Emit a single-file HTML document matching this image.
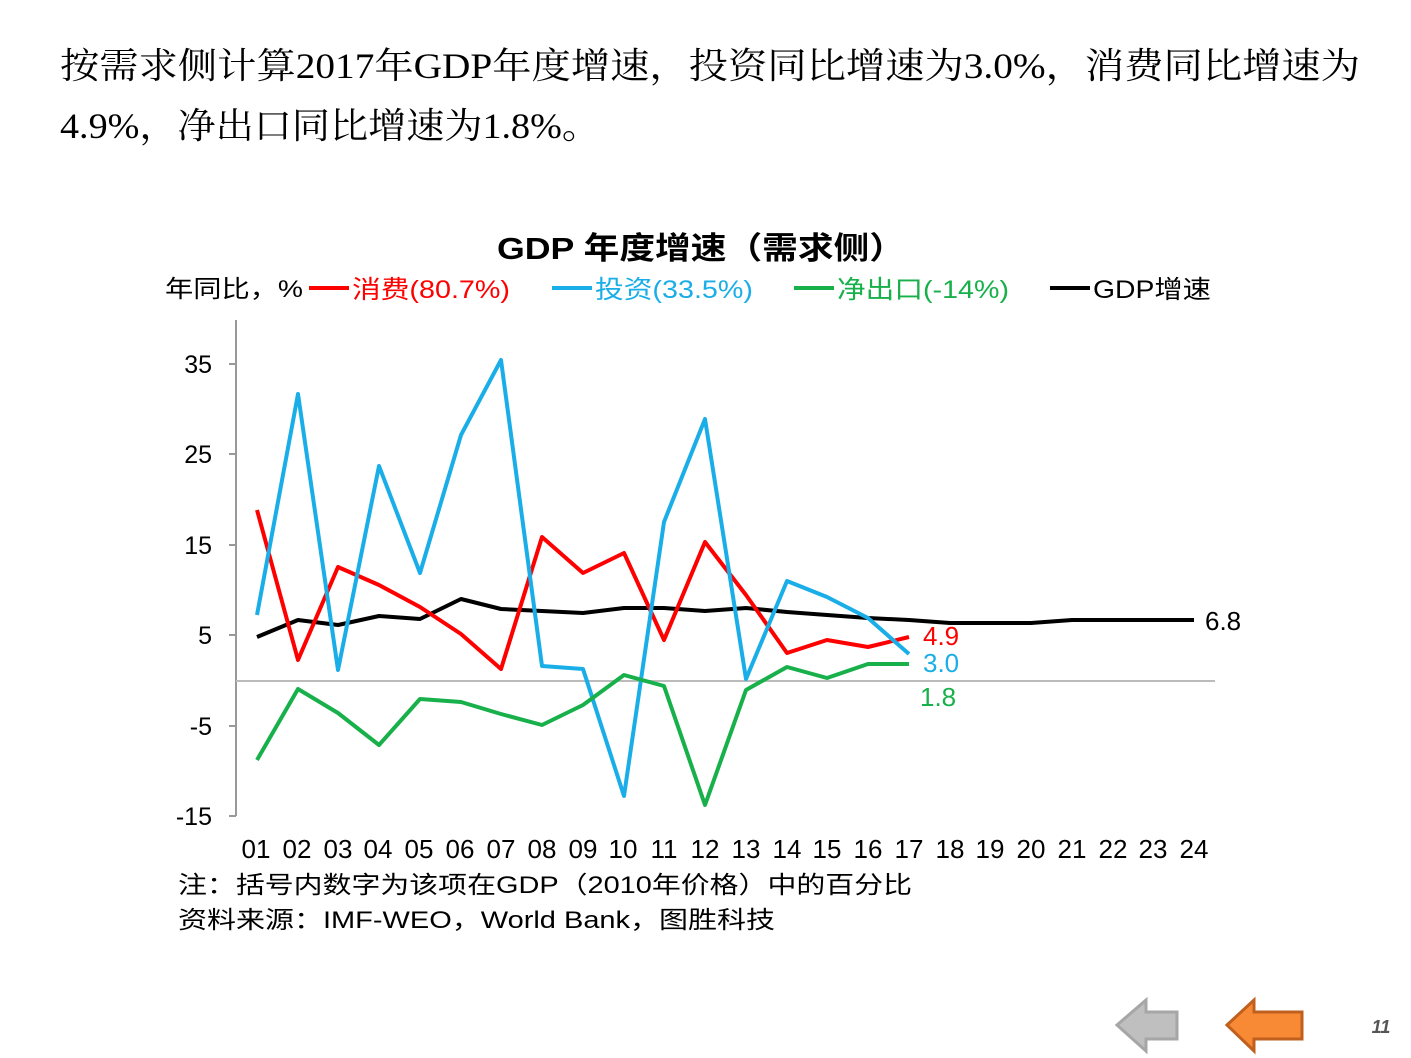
<!DOCTYPE html>
<html><head><meta charset="utf-8"><style>
body{margin:0;width:1411px;height:1058px;background:#fff;overflow:hidden;}
</style></head><body>
<svg width="1411" height="1058" style="position:absolute;left:0;top:0" font-family="Liberation Sans, Noto Sans CJK SC, sans-serif">
<g font-family="Liberation Serif, Noto Serif CJK SC, serif" font-size="36">
<text x="60" y="78" textLength="1300" lengthAdjust="spacingAndGlyphs">按需求侧计算2017年GDP年度增速，投资同比增速为3.0%，消费同比增速为</text>
<text x="60" y="138" textLength="540" lengthAdjust="spacingAndGlyphs">4.9%，净出口同比增速为1.8%。</text>
</g>
<text x="497" y="259" font-size="31" font-weight="bold" textLength="408" lengthAdjust="spacingAndGlyphs">GDP 年度增速（需求侧）</text>
<text x="165" y="297" font-size="24" textLength="138" lengthAdjust="spacingAndGlyphs">年同比，%</text>
<line x1="309" y1="288" x2="349" y2="288" stroke="#f00" stroke-width="4"/><text x="352" y="298" font-size="25" fill="#f00" textLength="158" lengthAdjust="spacingAndGlyphs">消费(80.7%)</text>
<line x1="552" y1="288" x2="592" y2="288" stroke="#1aaee8" stroke-width="4"/><text x="595" y="298" font-size="25" fill="#1aaee8" textLength="158" lengthAdjust="spacingAndGlyphs">投资(33.5%)</text>
<line x1="794" y1="288" x2="834" y2="288" stroke="#18b04a" stroke-width="4"/><text x="837" y="298" font-size="25" fill="#18b04a" textLength="172" lengthAdjust="spacingAndGlyphs">净出口(-14%)</text>
<line x1="1050" y1="288" x2="1090" y2="288" stroke="#000" stroke-width="4"/><text x="1093" y="298" font-size="25" textLength="118" lengthAdjust="spacingAndGlyphs">GDP增速</text>
<line x1="236" y1="320" x2="236" y2="816" stroke="#999" stroke-width="2"/>
<line x1="236" y1="681" x2="1215" y2="681" stroke="#bbb" stroke-width="2"/>
<g stroke="#999" stroke-width="2"><line x1="229" y1="364" x2="236" y2="364"/><line x1="229" y1="454" x2="236" y2="454"/><line x1="229" y1="545" x2="236" y2="545"/><line x1="229" y1="635" x2="236" y2="635"/><line x1="229" y1="726" x2="236" y2="726"/><line x1="229" y1="816" x2="236" y2="816"/></g>
<g font-size="25" text-anchor="end"><text x="212" y="373">35</text><text x="212" y="463">25</text><text x="212" y="554">15</text><text x="212" y="644">5</text><text x="212" y="735">-5</text><text x="212" y="825">-15</text></g>
<g font-size="26" text-anchor="middle">
<text x="256" y="858">01</text><text x="297" y="858">02</text><text x="338" y="858">03</text><text x="378" y="858">04</text><text x="419" y="858">05</text><text x="460" y="858">06</text><text x="501" y="858">07</text><text x="542" y="858">08</text><text x="583" y="858">09</text><text x="623" y="858">10</text><text x="664" y="858">11</text><text x="705" y="858">12</text><text x="746" y="858">13</text><text x="787" y="858">14</text><text x="827" y="858">15</text><text x="868" y="858">16</text><text x="909" y="858">17</text><text x="950" y="858">18</text><text x="990" y="858">19</text><text x="1031" y="858">20</text><text x="1072" y="858">21</text><text x="1113" y="858">22</text><text x="1153" y="858">23</text><text x="1194" y="858">24</text></g>
<g fill="none" stroke-width="4" stroke-linejoin="round">
<polyline stroke="#000" points="257,637 298,620 338,625 379,616 420,619 461,599 501,609 542,611 583,613 624,608 664,608 705,611 746,608 787,612 827,615 868,618 909,620 950,623 990,623 1031,623 1072,620 1113,620 1153,620 1194,620"/>
<polyline stroke="#f00" points="257,510 298,660 338,567 379,585 420,607 461,634 501,669 542,537 583,573 624,553 664,640 705,542 746,595 787,653 827,640 868,647 909,637"/>
<polyline stroke="#1aaee8" points="257,615 298,394 338,670 379,466 420,573 461,435 501,360 542,666 583,669 624,796 664,522 705,419 746,679 787,581 827,597 868,618 909,654"/>
<polyline stroke="#18b04a" points="257,760 298,689 338,713 379,745 420,699 461,702 501,714 542,725 583,705 624,675 664,686 705,805 746,690 787,667 827,678 868,664 909,664"/>
</g>
<g font-size="26"><text x="923" y="645" fill="#f00">4.9</text><text x="923" y="672" fill="#1aaee8">3.0</text><text x="920" y="706" fill="#18b04a">1.8</text><text x="1205" y="630">6.8</text></g>
<text x="178" y="893" font-size="24" textLength="734" lengthAdjust="spacingAndGlyphs">注：括号内数字为该项在GDP（2010年价格）中的百分比</text>
<text x="178" y="928" font-size="24" textLength="597" lengthAdjust="spacingAndGlyphs">资料来源：IMF-WEO，World Bank，图胜科技</text>
<polygon points="1117,1025 1146,1000 1146,1012 1177,1012 1177,1039 1146,1039 1146,1051" fill="#bfbfbf" stroke="#a6a6a6" stroke-width="3"/>
<polygon points="1227,1025 1254,1000 1254,1012 1302,1012 1302,1039 1254,1039 1254,1051" fill="#f98a35" stroke="#c0601e" stroke-width="3"/>
<text x="1381" y="1033" font-size="18" font-weight="bold" font-style="italic" fill="#555" text-anchor="middle">11</text>
</svg>
</body></html>
